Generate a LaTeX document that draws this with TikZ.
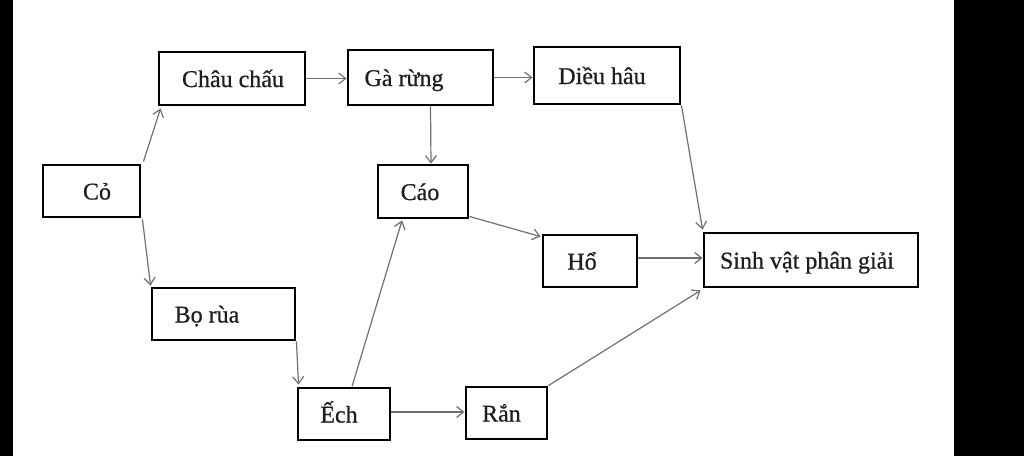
\documentclass[tikz,border=0pt]{standalone}
\usepackage{fontspec}
\setmainfont{Liberation Serif}
\newfontfamily\lblfont{Liberation Serif}[FakeBold=0.7]
\usetikzlibrary{arrows.meta,calc}
\definecolor{txt}{HTML}{1E1E1E}
\definecolor{arrgray}{HTML}{707070}
\newcommand{\padr}[1]{\rule{#1}{0pt}}
\begin{document}
\begin{tikzpicture}[x=1pt,y=-1pt,
  box/.style={draw=black, line width=2.9pt, inner sep=0pt, text=txt,
    text height=17pt, text depth=0pt, font=\lblfont\fontsize{24}{24}\selectfont},
  arr/.style={draw=arrgray, line width=1.2pt,
    -{Straight Barb[length=7pt,width=11pt,line width=1.2pt]}}]
\useasboundingbox (0,0) rectangle (1024,456);
\fill[white] (0,0) rectangle (1024,456);
\fill[black] (0,0) rectangle (13,456);
\fill[black] (954,0) rectangle (1024,456);
% boxes
\node[box, minimum width=97pt, minimum height=52pt] (co) at (91.5,191) {\padr{11pt}Cỏ};
\node[box, minimum width=146pt, minimum height=53pt] (chau) at (232,78.5) {\padr{2pt}Châu chấu};
\node[box, minimum width=145pt, minimum height=55pt] (ga) at (420.5,77.5) {Gà rừng\padr{33pt}};
\node[box, minimum width=146pt, minimum height=57pt] (dieu) at (607,75.5) {Diều hâu\padr{10pt}};
\node[box, minimum width=90pt, minimum height=53pt] (cao) at (423,191.5) {Cáo\padr{6pt}};
\node[box, minimum width=143pt, minimum height=52pt] (bo) at (223.5,314) {Bọ rùa\padr{33pt}};
\node[box, minimum width=92pt, minimum height=52pt] (ech) at (344,414) {Ếch\padr{10pt}};
\node[box, minimum width=81pt, minimum height=52pt] (ran) at (506.5,413) {Rắn\padr{10pt}};
\node[box, minimum width=94pt, minimum height=52pt] (ho) at (590,261) {Hổ\padr{16pt}};
\node[box, minimum width=214pt, minimum height=54pt] (svpg) at (811,260) {Sinh vật phân giải\padr{8pt}};
% connectors
\draw[arr] ($(co.north east)+(2,-2)$) -- ($(chau.south west)+(3,2)$);
\draw[arr] ($(co.south east)+(1,1)$) -- ($(bo.north west)+(0,-1)$);
\draw[arr] (chau.east) -- (chau.east -| ga.west);
\draw[arr] (ga.east) -- (ga.east -| dieu.west);
\draw[arr] ($(ga.south)+(10,0)$) -- ($(cao.north)+(8,0)$);
\draw[arr] ($(cao.south east)+(0,-3)$) -- ($(ho.north west)+(-1,3)$);
\draw[arr] ($(ech.north)+(8,0)$) -- ($(cao.south)+(-21,1)$);
\draw[arr] (bo.south east) -- ($(ech.north west)+(2,-2)$);
\draw[arr] ($(ech.east)+(0,-2)$) -- ($(ran.west)+(0,-1)$);
\draw[arr] (ran.north east) -- ($(svpg.south west)+(-2,2)$);
\draw[arr] ($(ho.east)+(0,-3)$) -- ($(svpg.west)+(0,-2)$);
\draw[arr] (dieu.south east) -- ($(svpg.north west)+(0,-2)$);
\end{tikzpicture}
\end{document}
